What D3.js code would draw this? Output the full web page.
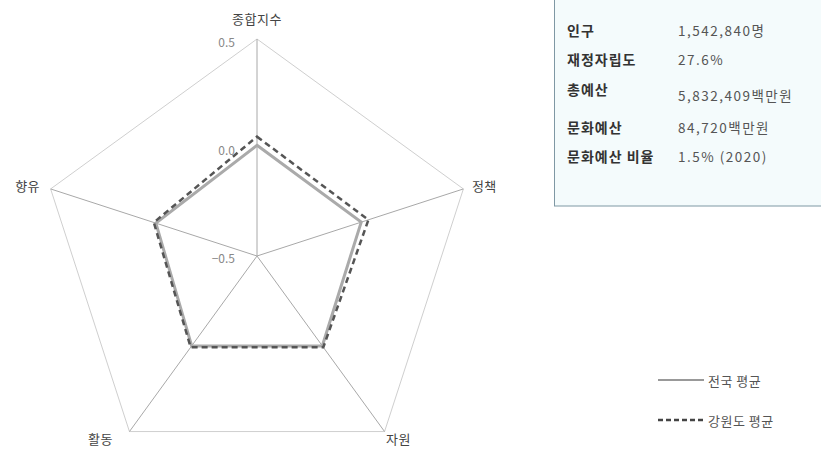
<!DOCTYPE html>
<meta charset="utf-8">
<script src="https://d3js.org/d3.v7.min.js"></script>
<style>
body { margin: 0; background: #fff; font-family: "Noto Sans CJK KR", sans-serif; }
</style>
<div id="chart"></div>
<script>
// axes of the radar, clockwise from top
var axes = ["종합지수", "정책", "자원", "활동", "향유"];
var ticks = [0.5, 0.0, -0.5];
var national = [0.01, 0.005, 0.012, 0.012, -0.01];
var gangwon = [0.05, 0.04, 0.02, 0.02, 0.0];
var seriesNames = ["전국 평균", "강원도 평균"];

// info box rows
var infoLabels = ["인구", "재정자립도", "총예산", "문화예산", "문화예산 비율"];
var infoValues = ["1,542,840명", "27.6%", "5,832,409백만원", "84,720백만원", "1.5% (2020)"];

var W = 821, H = 450;
var cx = 257, cy = 256, R = 217;

var svg = d3.select("#chart").append("svg")
  .attr("width", W).attr("height", H);

var r = d3.scaleLinear().domain([-0.5, 0.5]).range([0, R]);
var angle = d3.scaleLinear().domain([0, axes.length]).range([0, 2 * Math.PI]);

function pt(i, v) {
  var a = angle(i);
  return [cx + r(v) * Math.sin(a), cy - r(v) * Math.cos(a)];
}

// outer pentagon
svg.append("path")
  .attr("d", d3.line()(axes.map(function(d, i) { return pt(i, 0.5); })) + "Z")
  .attr("fill", "none")
  .attr("stroke", "#cfcfcf")
  .attr("stroke-width", 1);

// spokes
svg.selectAll(".spoke").data(axes).enter().append("line")
  .attr("x1", cx).attr("y1", cy)
  .attr("x2", function(d, i) { return pt(i, 0.5)[0]; })
  .attr("y2", function(d, i) { return pt(i, 0.5)[1]; })
  .attr("stroke", "#a8a8a8")
  .attr("stroke-width", 1);

// axis labels
var labelOff = [[0, -21], [21, -3], [14, 7], [-29, 7], [-23, -3]];
svg.selectAll(".alabel").data(axes).enter().append("text")
  .attr("x", function(d, i) { return pt(i, 0.5)[0] + labelOff[i][0]; })
  .attr("y", function(d, i) { return pt(i, 0.5)[1] + labelOff[i][1]; })
  .attr("text-anchor", "middle")
  .attr("dominant-baseline", "central")
  .attr("font-size", 13)
  .attr("letter-spacing", 0.5)
  .attr("fill", "#444")
  .text(function(d) { return d; });

// tick labels along top spoke
svg.selectAll(".tick").data(ticks).enter().append("text")
  .attr("x", 235)
  .attr("y", function(d) { return cy - r(d) + (d === -0.5 ? 1 : 2); })
  .attr("text-anchor", "end")
  .attr("dominant-baseline", "central")
  .attr("font-size", 12)
  .attr("fill", "#888")
  .text(function(d) { return d3.format(".1f")(d).replace("-", "−"); });

// series
var styles = [
  { stroke: "#aaaaaa", width: 3, dash: null },
  { stroke: "#555555", width: 2.5, dash: "6,4" }
];
[national, gangwon].forEach(function(vals, k) {
  svg.append("path")
    .attr("d", d3.line()(vals.map(function(v, i) { return pt(i, v); })) + "Z")
    .attr("fill", "none")
    .attr("stroke", styles[k].stroke)
    .attr("stroke-width", styles[k].width)
    .attr("stroke-dasharray", styles[k].dash);
});

// info box
svg.append("rect")
  .attr("x", 554.5).attr("y", -5)
  .attr("width", 280).attr("height", 211)
  .attr("fill", "#f4fbfc")
  .attr("stroke", "#7f98a4")
  .attr("stroke-width", 1);

var rowY = [30, 59, 89, 127, 156];
var valY = [30, 59, 95, 127, 156];
svg.selectAll(".ilabel").data(infoLabels).enter().append("text")
  .attr("x", 567)
  .attr("y", function(d, i) { return rowY[i]; })
  .attr("dominant-baseline", "central")
  .attr("font-size", 14)
  .attr("letter-spacing", 1)
  .attr("font-weight", "bold")
  .attr("fill", "#333")
  .text(function(d) { return d; });
svg.selectAll(".ivalue").data(infoValues).enter().append("text")
  .attr("x", 678)
  .attr("y", function(d, i) { return valY[i]; })
  .attr("dominant-baseline", "central")
  .attr("font-size", 13.5)
  .attr("letter-spacing", 1.5)
  .attr("fill", "#555")
  .text(function(d) { return d; });

// legend
var legend = svg.selectAll(".legend").data(seriesNames).enter().append("g")
  .attr("transform", function(d, i) { return "translate(658," + (380 + i * 40) + ")"; });
legend.append("line")
  .attr("x1", 0).attr("x2", 46)
  .attr("stroke", function(d, i) { return i === 0 ? "#999" : "#444"; })
  .attr("stroke-width", function(d, i) { return i === 0 ? 2 : 2.5; })
  .attr("stroke-dasharray", function(d, i) { return styles[i].dash ? "5,3" : null; });
legend.append("text")
  .attr("x", 50)
  .attr("dominant-baseline", "central")
  .attr("font-size", 13)
  .attr("letter-spacing", 0.5)
  .attr("fill", "#555")
  .text(function(d) { return d; });
</script>
